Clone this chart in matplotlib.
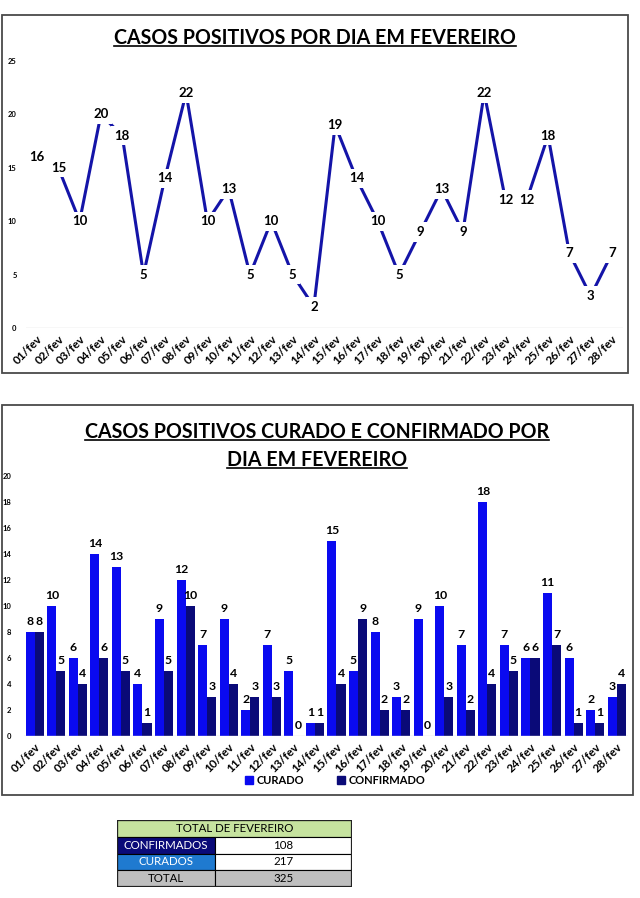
import matplotlib
matplotlib.use("Agg")
import matplotlib.pyplot as plt
from matplotlib.patches import Rectangle, Patch
from matplotlib.lines import Line2D
import numpy as np

plt.rcParams['font.family'] = ['Lato', 'DejaVu Sans']
plt.rcParams['font.weight'] = 'bold'

dias = ["%02d/fev" % d for d in range(1, 29)]
casos = [16, 15, 10, 20, 18, 5, 14, 22, 10, 13, 5, 10, 5, 2,
         19, 14, 10, 5, 9, 13, 9, 22, 12, 12, 18, 7, 3, 7]
curado = [8, 10, 6, 14, 13, 4, 9, 12, 7, 9, 2, 7, 5, 1,
          15, 5, 8, 3, 9, 10, 7, 18, 7, 6, 11, 6, 2, 3]
confirmado = [8, 5, 4, 6, 5, 1, 5, 10, 3, 4, 3, 3, 0, 1,
              4, 9, 2, 2, 0, 3, 2, 4, 5, 6, 7, 1, 1, 4]

W, H = 640, 898
cor_linha = "#1414a8"
cor_curado = "#0a0af0"
cor_conf = "#0a0a78"

fig = plt.figure(figsize=(6.4, 8.98), dpi=100)

def fy(py):
    return 1 - py / H

def caixa(x0, y0, x1, y1):
    fig.patches.append(Rectangle((x0 / W, fy(y1)), (x1 - x0) / W, (y1 - y0) / H,
                                 transform=fig.transFigure, fill=False,
                                 ec="#4a4a4a", lw=1.3))

def sublinhar(t):
    fig.canvas.draw()
    bb = t.get_window_extent(fig.canvas.get_renderer())
    y = (bb.y0 + 2) / fig.bbox.height
    fig.add_artist(Line2D([bb.x0 / fig.bbox.width, bb.x1 / fig.bbox.width], [y, y],
                          transform=fig.transFigure, color="black", lw=1.2))

caixa(2, 15, 628, 373)
caixa(2, 405, 633, 795)

x = np.arange(len(dias))

# grafico de linha
ax1 = fig.add_axes([26.4 / W, fy(328), (622.6 - 26.4) / W, (328 - 61) / H])
ax1.plot(x, casos, color=cor_linha, lw=2.2)
for i, v in enumerate(casos):
    ax1.text(i, v, str(v), ha="center", va="center", fontsize=9.5, fontweight="bold",
             bbox=dict(boxstyle="square,pad=0.28", fc="white", ec="none"))
ax1.set_xlim(-0.5, 27.5)
ax1.set_ylim(0, 25)
ax1.set_yticks([0, 5, 10, 15, 20, 25])
ax1.axhline(0, color="#d9d9d9", lw=1)
ax1.set_xticks(x)
ax1.set_xticklabels(dias, rotation=45, ha="right", rotation_mode="anchor", fontsize=8.5)
ax1.tick_params(axis="y", length=0, labelsize=5.5, pad=7)
ax1.tick_params(axis="x", length=0, pad=4)
for s in ax1.spines.values():
    s.set_visible(False)
t1 = fig.text(315 / W, fy(38), "CASOS POSITIVOS POR DIA EM FEVEREIRO",
              ha="center", va="center", fontsize=14.1, fontweight="bold")

# grafico de barras
ax2 = fig.add_axes([23.9 / W, fy(736), (627.5 - 23.9) / W, (736 - 476) / H])
w = 0.42
b1 = ax2.bar(x - w / 2, curado, w, color=cor_curado, label="CURADO")
b2 = ax2.bar(x + w / 2, confirmado, w, color=cor_conf, label="CONFIRMADO")
for bars in (b1, b2):
    for r in bars:
        h = r.get_height()
        ax2.text(r.get_x() + r.get_width() / 2, h + 0.35, str(int(h)),
                 ha="center", va="bottom", fontsize=8.8, fontweight="bold")
ax2.set_xlim(-0.5, 27.5)
ax2.set_ylim(0, 20)
ax2.set_yticks(range(0, 21, 2))
ax2.axhline(0, color="#d9d9d9", lw=1)
ax2.set_xticks(x)
ax2.set_xticklabels(dias, rotation=45, ha="right", rotation_mode="anchor", fontsize=8.5)
ax2.tick_params(axis="y", length=0, labelsize=5.5, pad=9)
ax2.tick_params(axis="x", length=0, pad=4)
for s in ax2.spines.values():
    s.set_visible(False)
t2 = fig.text(317 / W, fy(432), "CASOS POSITIVOS CURADO E CONFIRMADO POR",
              ha="center", va="center", fontsize=14.1, fontweight="bold")
t3 = fig.text(317 / W, fy(460), "DIA EM FEVEREIRO",
              ha="center", va="center", fontsize=14.1, fontweight="bold")
fig.legend(handles=[Patch(color=cor_curado, label="CURADO"),
                    Patch(color=cor_conf, label="CONFIRMADO")],
           loc="center", bbox_to_anchor=(335 / W, fy(780)), ncol=2, frameon=False,
           prop={"size": 8, "weight": "bold"}, handlelength=0.7, handleheight=0.7,
           handletextpad=0.3, columnspacing=3)

# tabela de totais
tot_conf = sum(confirmado)
tot_cur = sum(curado)
linhas = [("CONFIRMADOS", tot_conf, cor_conf, "white"),
          ("CURADOS", tot_cur, "#1f7ad0", "white"),
          ("TOTAL", tot_conf + tot_cur, "#bfbfbf", "black")]
axt = fig.add_axes([117 / W, fy(887), (352 - 117) / W, (887 - 820) / H])
axt.set_xlim(0, 235)
axt.set_ylim(4, 0)
axt.axis("off")
axt.add_patch(Rectangle((0, 0), 235, 1, fc="#c6e39f", ec="black", lw=0.8))
axt.text(117.5, 0.5, "TOTAL DE FEVEREIRO", ha="center", va="center",
         fontsize=8.3, fontweight="normal")
for i, (nome, val, cor, ctxt) in enumerate(linhas):
    y0 = i + 1
    axt.add_patch(Rectangle((0, y0), 98, 1, fc=cor, ec="black", lw=0.8))
    fundo = "#bfbfbf" if nome == "TOTAL" else "white"
    axt.add_patch(Rectangle((98, y0), 137, 1, fc=fundo, ec="black", lw=0.8))
    axt.text(49, y0 + 0.5, nome, ha="center", va="center", fontsize=8.3,
             fontweight="normal", color=ctxt)
    axt.text(166.5, y0 + 0.5, str(val), ha="center", va="center", fontsize=8.3,
             fontweight="normal")
axt.add_patch(Rectangle((0, 0), 235, 4, fill=False, ec="#222222", lw=1.6))

for t in (t1, t2, t3):
    sublinhar(t)

fig.savefig("out.png", dpi=100)
